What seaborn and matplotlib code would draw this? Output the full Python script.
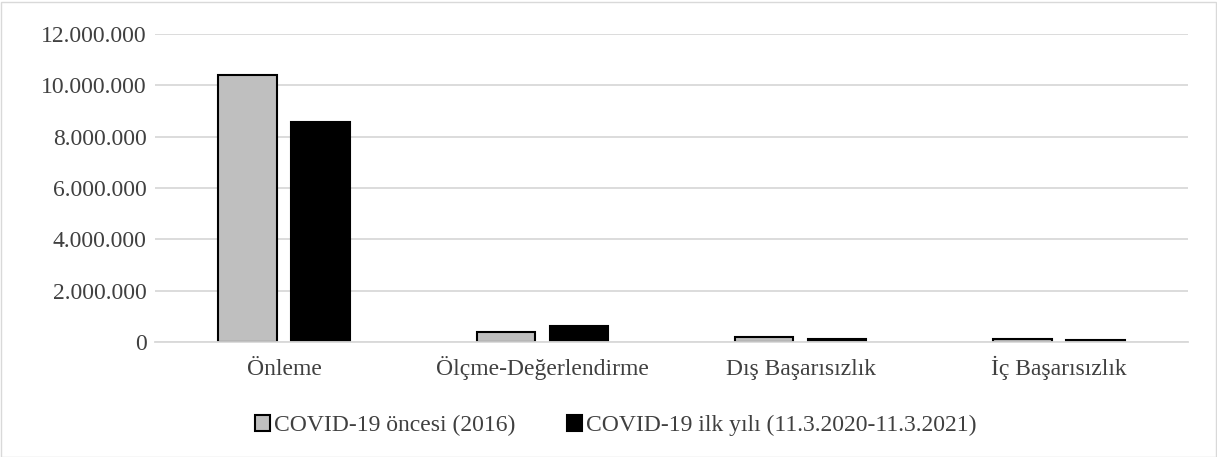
import numpy as np
import pandas as pd
import matplotlib
matplotlib.use("Agg")
import matplotlib.pyplot as plt
import seaborn as sns
from matplotlib.ticker import FuncFormatter

# veriler
kategoriler = ["Önleme", "Ölçme-Değerlendirme", "Dış Başarısızlık", "İç Başarısızlık"]
seriler = ["COVID-19 öncesi (2016)", "COVID-19 ilk yılı (11.3.2020-11.3.2021)"]
oncesi = [10420000, 400000, 200000, 100000]
ilk_yil = [8580000, 640000, 110000, 80000]

df = pd.DataFrame({
    "Kategori": kategoriler * 2,
    "Seri": [seriler[0]] * 4 + [seriler[1]] * 4,
    "Deger": oncesi + ilk_yil,
})

sns.set_style("white")
plt.rcParams['font.family'] = ['Liberation Serif', 'DejaVu Serif']

fig = plt.figure(figsize=(12.17, 4.57), dpi=100)
ax = fig.add_axes([155 / 1217, 1 - 342 / 457, 1033 / 1217, 308 / 457])

sns.barplot(data=df, x="Kategori", y="Deger", hue="Seri",
            palette=["#bfbfbf", "#000000"], width=0.565, gap=0.2,
            edgecolor="black", linewidth=1.5, ax=ax)

ax.set_ylim(0, 12000000)
ax.set_yticks(np.arange(0, 12000001, 2000000))
ax.yaxis.set_major_formatter(FuncFormatter(lambda v, p: f"{int(v):,}".replace(",", ".")))
ax.grid(axis="y", color="#d9d9d9", linewidth=1.3)
ax.set_axisbelow(True)
for s in ["top", "right", "left"]:
    ax.spines[s].set_visible(False)
ax.spines["bottom"].set_color("#d9d9d9")
ax.spines["bottom"].set_linewidth(1.3)
ax.tick_params(axis="y", length=0, labelsize=17, colors="#404040", pad=6)
ax.tick_params(axis="x", length=0, labelsize=17, colors="#404040", pad=24)
for lbl in ax.get_xticklabels():
    lbl.set_verticalalignment("baseline")
ax.set_xlabel("")
ax.set_ylabel("")

ax.legend(loc="upper center", bbox_to_anchor=(0.446, -0.168), ncol=2, frameon=False,
          fontsize=17, handlelength=0.65, handleheight=0.65, handletextpad=0.15,
          columnspacing=2.2, labelcolor="#404040")

fig.add_artist(plt.Rectangle((0.5 / 1217, 0.5 / 457), 1215 / 1217, 455 / 457,
                             transform=fig.transFigure, fill=False,
                             edgecolor="#d9d9d9", linewidth=1))

fig.savefig("out.png", dpi=100)
